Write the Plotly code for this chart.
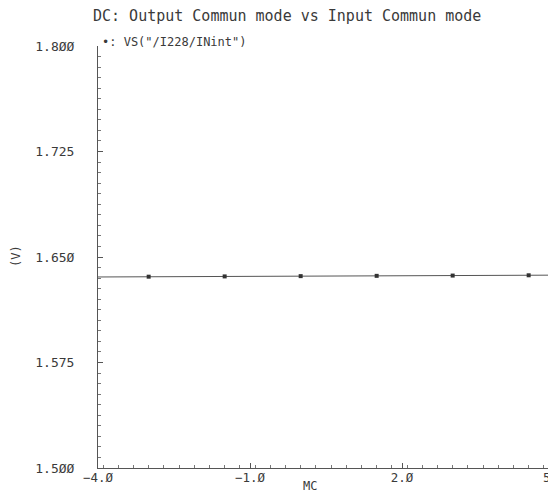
import plotly.graph_objects as go

# Data
mc_line = [-4.0, -3.0, -1.5, 0.0, 1.5, 3.0, 4.5, 5.0]
vs_line = [1.6358, 1.6360, 1.6362, 1.6364, 1.6366, 1.6368, 1.6370, 1.6371]
mc_pts = [-3.0, -1.5, 0.0, 1.5, 3.0, 4.5]
vs_pts = [1.6360, 1.6362, 1.6364, 1.6366, 1.6368, 1.6370]

x_tickvals = [-4.0, -1.0, 2.0, 5.0]
x_ticktext = ["\u22124.\u00d8", "\u22121.\u00d8", "2.\u00d8", ""]
x_last_label = "5.\u00d8"
y_tickvals = [1.500, 1.575, 1.650, 1.725, 1.800]
y_ticktext = ["1.5\u00d8\u00d8", "1.575", "1.65\u00d8", "1.725", "1.8\u00d8\u00d8"]

title = "DC: Output Commun mode vs Input Commun mode"
legend_txt = "\u2022: VS(\"/I228/INint\")"

# the page body adds an 8px offset; figure coords = page coords - 8
OFF = 8
W, H = 548, 484
L, T = 98 - OFF, 46 - OFF
R = W - (554 - OFF)
B = H - (468 - OFF)
INK = "#3a3a3a"
FONT = "DejaVu Sans Mono"

fig = go.Figure()
fig.add_trace(go.Scatter(x=mc_line, y=vs_line, mode="lines",
                         line=dict(color="#555555", width=1), showlegend=False,
                         hoverinfo="skip", cliponaxis=False))
fig.add_trace(go.Scatter(x=mc_pts, y=vs_pts, mode="markers",
                         marker=dict(color="#333333", size=4, symbol="square"),
                         showlegend=False))

def px_x(p):
    return (p - OFF - L) / (W - L - R)

def px_y(p):
    return 1 - (p - OFF - T) / (H - T - B)

fig.update_layout(
    width=W, height=H,
    margin=dict(l=L, r=R, t=T, b=B, autoexpand=False),
    paper_bgcolor="white", plot_bgcolor="white",
    font=dict(family=FONT, color=INK, size=12),
    xaxis=dict(range=[-4.0, 5.0], tickvals=x_tickvals, ticktext=x_ticktext,
               showgrid=False, zeroline=False, showline=True,
               linecolor="#555555", linewidth=1,
               ticks="inside", ticklen=5, tickcolor="#555555",
               minor=dict(dtick=0.3, ticks="inside", ticklen=3, tickcolor="#777777"),
               tickfont=dict(family=FONT, size=12.5, color=INK),
               ticklabelstandoff=-2),
    yaxis=dict(range=[1.500, 1.800], tickvals=y_tickvals, ticktext=y_ticktext,
               showgrid=False, zeroline=False, showline=True,
               linecolor="#555555", linewidth=1,
               ticks="inside", ticklen=5, tickcolor="#555555",
               minor=dict(dtick=0.0075, tick0=1.5, ticks="inside", ticklen=3, tickcolor="#777777"),
               tickfont=dict(family=FONT, size=13, color=INK),
               ticklabelstandoff=20),
    annotations=[
        dict(text=title, xref="paper", yref="paper", x=px_x(91), y=px_y(16),
             xanchor="left", yanchor="middle", showarrow=False,
             font=dict(family=FONT, size=15, color=INK)),
        dict(text=legend_txt, xref="paper", yref="paper", x=px_x(100), y=px_y(42),
             xanchor="left", yanchor="middle", showarrow=False,
             font=dict(family=FONT, size=12, color=INK)),
        dict(text="(V)", xref="paper", yref="paper", x=px_x(16), y=px_y(256),
             xanchor="center", yanchor="middle", showarrow=False, textangle=-90,
             font=dict(family=FONT, size=12, color=INK)),
        dict(text="MC", xref="paper", yref="paper", x=px_x(310), y=px_y(486),
             xanchor="center", yanchor="middle", showarrow=False,
             font=dict(family=FONT, size=12, color=INK)),
        dict(text=x_last_label, xref="x", yref="paper", x=5.0, y=px_y(478),
             xanchor="center", yanchor="middle", showarrow=False,
             font=dict(family=FONT, size=12.5, color=INK)),
    ],
)

fig.write_html("out.html")
